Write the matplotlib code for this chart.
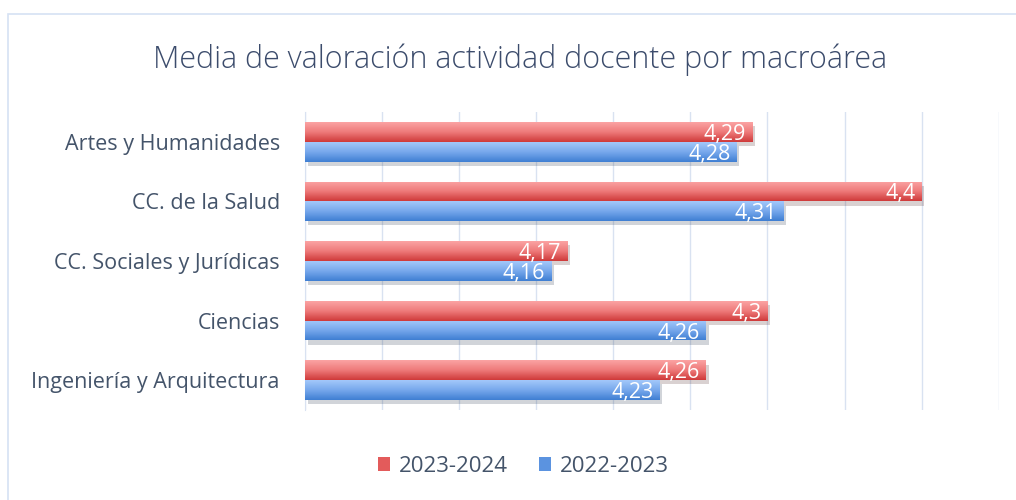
import numpy as np
import matplotlib.pyplot as plt
import matplotlib.patches as mpatches
import matplotlib.patheffects as pe
from matplotlib.colors import LinearSegmentedColormap

# Datos
categorias = ['Artes y Humanidades', 'CC. de la Salud', 'CC. Sociales y Jurídicas',
              'Ciencias', 'Ingeniería y Arquitectura']
serie_2324 = [4.29, 4.40, 4.17, 4.30, 4.26]
serie_2223 = [4.28, 4.31, 4.16, 4.26, 4.23]
etiquetas_2324 = ['4,29', '4,4', '4,17', '4,3', '4,26']
etiquetas_2223 = ['4,28', '4,31', '4,16', '4,26', '4,23']
nombres_series = ['2023-2024', '2022-2023']

plt.rcParams['font.family'] = ['Open Sans', 'DejaVu Sans']
texto_color = '#44546a'

fig = plt.figure(figsize=(10.16, 5.0), dpi=100)
ax = fig.add_axes([0.300, 0.18, 0.683, 0.596])

# marco exterior del gráfico
fig.patches.append(mpatches.Rectangle((0.008, -0.01), 1.1, 0.982, transform=fig.transFigure,
                                      fill=False, edgecolor='#d6e2f3', linewidth=1.2))

y = np.arange(len(categorias))
h = 0.333

grad_rojo = LinearSegmentedColormap.from_list('r', ['#fba3a3', '#ee7a7a', '#cf3a3a'])
grad_azul = LinearSegmentedColormap.from_list('b', ['#a3c8fa', '#77a8ec', '#3f7fd3'])
gradiente = np.linspace(0, 1, 64).reshape(-1, 1)

def barras(valores, desplaz, color, cmap):
    bs = ax.barh(y + desplaz, np.array(valores) - 4.0, left=4.0, height=h, color=color,
                 zorder=3, path_effects=[pe.SimplePatchShadow(offset=(2, -3), alpha=0.2),
                                         pe.Normal()])
    for b in bs:
        x0, y0, w, hh = b.get_x(), b.get_y(), b.get_width(), b.get_height()
        im = ax.imshow(gradiente, cmap=cmap, aspect='auto', origin='upper',
                       extent=(x0, x0 + w, y0 + hh, y0), zorder=4)
        im.set_clip_path(b)
    return bs

barras(serie_2324, -h / 2, '#e35b5b', grad_rojo)
barras(serie_2223, h / 2, '#5b93e0', grad_azul)

for i in range(len(categorias)):
    ax.text(serie_2324[i] - 0.004, y[i] - h / 2, etiquetas_2324[i], ha='right',
            va='center_baseline', color='white', fontsize=15.5, zorder=5)
    ax.text(serie_2223[i] - 0.004, y[i] + h / 2, etiquetas_2223[i], ha='right',
            va='center_baseline', color='white', fontsize=15.5, zorder=5)

ax.set_xlim(4.0, 4.45)
ax.set_ylim(len(categorias) - 0.5, -0.5)
ax.set_xticks(np.arange(4.0, 4.451, 0.05))
ax.set_xticklabels([])
ax.tick_params(axis='x', length=0)
ax.set_yticks(y)
ax.set_yticklabels(categorias, fontsize=15.5, color=texto_color)
ax.tick_params(axis='y', length=0, pad=18)
ax.grid(axis='x', color='#d9e2f1', linewidth=1, zorder=0)
for s in ['top', 'right', 'bottom']:
    ax.spines[s].set_visible(False)
ax.spines['left'].set_color('#d9e2f1')

fig.text(0.512, 0.88, 'Media de valoración actividad docente por macroárea',
         ha='center', va='center', fontsize=22, color='#3c4c6c', fontweight='light')

handles = [mpatches.Patch(facecolor='#e35b5b', label=nombres_series[0]),
           mpatches.Patch(facecolor='#5b93e0', label=nombres_series[1])]
fig.legend(handles=handles, loc='center', bbox_to_anchor=(0.515, 0.068), ncol=2, frameon=False,
           fontsize=16, handlelength=0.55, handleheight=0.6, handletextpad=0.4,
           columnspacing=1.4, labelcolor=texto_color)

fig.savefig('out.png', dpi=100, facecolor='white')
